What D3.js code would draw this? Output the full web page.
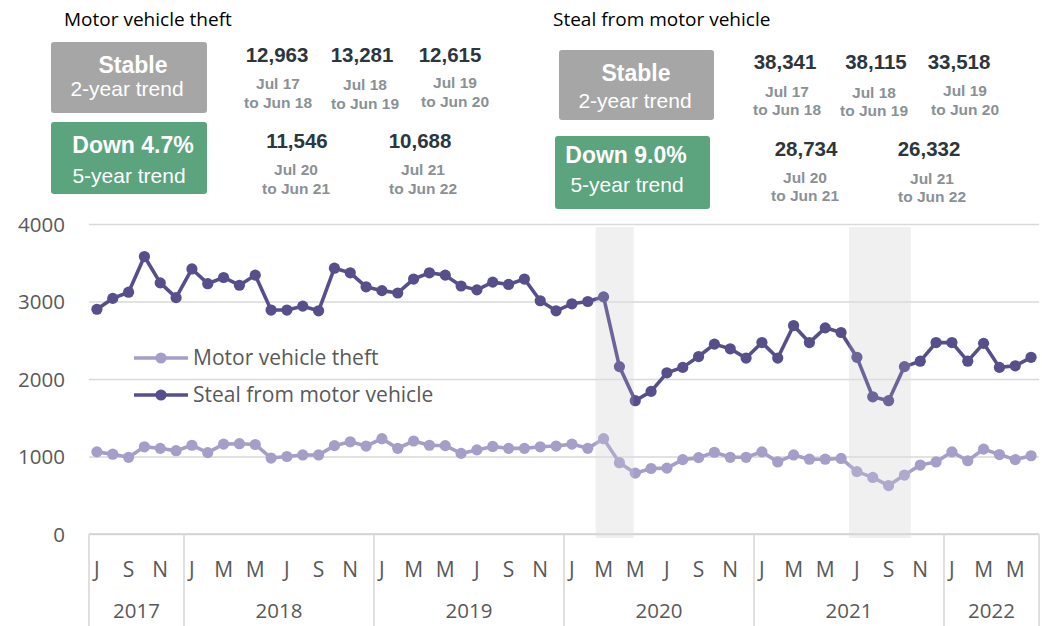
<!DOCTYPE html>
<html><head><meta charset="utf-8">
<script src="https://cdn.jsdelivr.net/npm/d3@7"></script>
<style>
html,body{margin:0;padding:0;background:#fff;}
svg{display:block;}
</style></head>
<body>
<script>
// ---------- DATA ----------
const startYear = 2017, startMonth = 6; // July 2017
const monthInitials = ["J","F","M","A","M","J","J","A","S","O","N","D"];
const years = ["2017","2018","2019","2020","2021","2022"];
const yTicks = [0,1000,2000,3000,4000];

const theftValues = [1060,1030,990,1125,1105,1075,1145,1050,1160,1165,1155,980,
  1000,1020,1020,1140,1190,1135,1230,1105,1200,1145,1140,1040,
  1085,1130,1105,1105,1125,1135,1160,1105,1230,920,785,845,850,960,985,1055,
  990,990,1060,930,1020,965,965,975,805,730,625,760,890,930,1060,945,1095,1025,960,1010];
const stealValues = [2900,3040,3120,3580,3240,3050,3420,3230,3310,3210,3340,2890,
  2890,2940,2880,3430,3370,3190,3140,3110,3290,3370,3340,3200,
  3150,3250,3220,3290,3010,2880,2970,3000,3060,2160,1720,1840,2080,2150,2290,2450,
  2390,2270,2470,2270,2690,2470,2660,2600,2280,1770,1720,2160,2230,2470,2470,2230,2460,2150,2170,2280];

// shaded periods, in months from July 2017
const shadeStart = [32.0, 48.0];
const shadeEnd = [34.4, 51.9];

const seriesNames = ["Motor vehicle theft","Steal from motor vehicle"];
const panelTitles = ["Motor vehicle theft","Steal from motor vehicle"];
const trend2 = ["Stable","Stable"];
const trend5 = ["Down 4.7%","Down 9.0%"];
const theftTotals = ["12,963","13,281","12,615","11,546","10,688"];
const stealTotals = ["38,341","38,115","33,518","28,734","26,332"];
const periodFrom = ["Jul 17","Jul 18","Jul 19","Jul 20","Jul 21"];
const periodTo = ["to Jun 18","to Jun 19","to Jun 20","to Jun 21","to Jun 22"];

// ---------- LAYOUT ----------
const W = 1042, H = 626;
const colors = {theft:"#a59ec9", steal:"#574f8c", grid:"#d9d9d9", axisText:"#595959",
  boxGray:"#a6a6a6", boxGreen:"#5ba47e", num:"#2b363d", sub:"#8a9196"};
const axisFont = "'Open Sans', sans-serif";
const statFont = "'Liberation Sans', Arial, sans-serif";

const svg = d3.select("body").append("svg").attr("width", W).attr("height", H);

const nMonths = theftValues.length;
const idx = d3.range(nMonths);
const x = d3.scaleBand().domain(idx).range([89, 1039]).paddingInner(0).paddingOuter(0);
const bw = x.bandwidth();
const xm = m => 89 + m * bw; // continuous month position
const y = d3.scaleLinear().domain([0, 4000]).range([534, 224]);

// shade (behind)
const shades = shadeStart.map((s,i)=>({s, e: shadeEnd[i]}));
svg.append("g").selectAll("rect").data(shades).join("rect")
  .attr("x", d=>xm(d.s)).attr("width", d=>xm(d.e)-xm(d.s))
  .attr("y", y(3960)).attr("height", y(-50)-y(3960))
  .attr("fill", "#f0f0f0");

// gridlines
const yAxis = d3.axisLeft(y).tickValues(yTicks).tickSize(-(1039-89)).tickPadding(24).tickFormat(d3.format("d"));
const gy = svg.append("g").attr("transform","translate(89,0)").call(yAxis);
gy.select(".domain").remove();
gy.selectAll(".tick line").attr("stroke", colors.grid).attr("stroke-width",1.6);
gy.selectAll(".tick text").attr("fill", colors.axisText).attr("font-family", axisFont)
  .attr("font-size", 20.5).attr("dy","0.35em");

// x axis: month labels and year separators
const periods = idx.map(i => {
  const mm = startMonth + i;
  return {i, year: startYear + Math.floor(mm/12), month: mm % 12};
});
const gx = svg.append("g");
gx.append("line").attr("x1",89).attr("x2",1039).attr("y1",y(0)).attr("y2",y(0))
  .attr("stroke","#d0d0d0").attr("stroke-width",1.6);
gx.selectAll("text.m").data(periods.filter(p=>p.i%2===0)).join("text")
  .attr("class","m")
  .attr("x", p=>x(p.i)+bw/2).attr("y", 577)
  .attr("text-anchor","middle").attr("font-family", axisFont).attr("font-size",21)
  .attr("fill", colors.axisText).text(p=>monthInitials[p.month]);
const yearGroups = years.map(yr => {
  const ps = periods.filter(p=>String(p.year)===yr);
  return {yr, a: ps[0].i, b: ps[ps.length-1].i + 1};
});
const seps = [0].concat(yearGroups.map(g=>g.b));
gx.selectAll("line.sep").data(seps).join("line").attr("class","sep")
  .attr("x1", d=>xm(d)).attr("x2", d=>xm(d)).attr("y1", y(0)).attr("y2", H)
  .attr("stroke","#d9d9d9").attr("stroke-width",1.6);
gx.selectAll("text.yr").data(yearGroups).join("text").attr("class","yr")
  .attr("x", g=>(xm(g.a)+xm(g.b))/2).attr("y", 618)
  .attr("text-anchor","middle").attr("font-family", axisFont).attr("font-size",20.5)
  .attr("fill", colors.axisText).text(g=>g.yr);

// lines
const line = d3.line().x((d,i)=>x(i)+bw/2).y(d=>y(d));
function drawSeries(vals, col){
  const g = svg.append("g");
  g.append("path").datum(vals).attr("d", line).attr("fill","none")
    .attr("stroke", col).attr("stroke-width",3.6).attr("stroke-linejoin","round");
  g.selectAll("circle").data(vals).join("circle")
    .attr("cx", (d,i)=>x(i)+bw/2).attr("cy", d=>y(d)).attr("r",5.6).attr("fill", col);
}
drawSeries(theftValues, colors.theft);
drawSeries(stealValues, colors.steal);

// shade overlay (slight)
svg.append("g").selectAll("rect").data(shades).join("rect")
  .attr("x", d=>xm(d.s)).attr("width", d=>xm(d.e)-xm(d.s))
  .attr("y", y(3960)).attr("height", y(-50)-y(3960))
  .attr("fill", "#f0f0f0").attr("opacity",0.14);

// legend
const leg = svg.append("g");
const legItems = [{name: seriesNames[0], col: colors.theft, yy:358},{name: seriesNames[1], col: colors.steal, yy:395}];
legItems.forEach(it=>{
  leg.append("line").attr("x1",134).attr("x2",188).attr("y1",it.yy).attr("y2",it.yy)
    .attr("stroke", it.col).attr("stroke-width",3.6);
  leg.append("circle").attr("cx",161).attr("cy",it.yy).attr("r",5.6).attr("fill",it.col);
  leg.append("text").attr("x",193).attr("y",it.yy+7).attr("font-family",axisFont)
    .attr("font-size",21).attr("fill",colors.axisText).text(it.name);
});

// ---------- header panels ----------
const panels = [
  {title: panelTitles[0], tx:64, ty:26, totals: theftTotals,
   box2:{x:51,y:42,w:156,h:71, t1x:133, t1y:73, t2x:127, t2y:96},
   box5:{x:51,y:122,w:156,h:72, t1x:133, t1y:153, t2x:129, t2y:183},
   stats:[{nx:277,ny:62,sx:278,s1y:89,s2y:108},{nx:362,ny:62,sx:365,s1y:90,s2y:109},
          {nx:450,ny:62,sx:455,s1y:88,s2y:107},{nx:297,ny:148,sx:296,s1y:175,s2y:194},
          {nx:420,ny:148,sx:423,s1y:175,s2y:194}]},
  {title: panelTitles[1], tx:553, ty:26, totals: stealTotals,
   box2:{x:559,y:50,w:155,h:70, t1x:636, t1y:81, t2x:635, t2y:108},
   box5:{x:555,y:136,w:155,h:73, t1x:626, t1y:163, t2x:627, t2y:192},
   stats:[{nx:785,ny:69,sx:787,s1y:97,s2y:115},{nx:876,ny:69,sx:874,s1y:98,s2y:116},
          {nx:959,ny:69,sx:965,s1y:96,s2y:115},{nx:806,ny:156,sx:805,s1y:183,s2y:201},
          {nx:929,ny:156,sx:932,s1y:184,s2y:202}]}
];
panels.forEach((p,pi)=>{
  const g = svg.append("g");
  g.append("text").attr("x",p.tx).attr("y",p.ty).attr("font-family",axisFont)
    .attr("font-size",19).attr("fill","#000").text(p.title);
  [[p.box2, colors.boxGray, trend2[pi], "2-year trend"],[p.box5, colors.boxGreen, trend5[pi], "5-year trend"]]
  .forEach(([b, col, t1, t2])=>{
    g.append("rect").attr("x",b.x).attr("y",b.y).attr("width",b.w).attr("height",b.h)
      .attr("rx",3).attr("fill",col);
    g.append("text").attr("x",b.t1x).attr("y",b.t1y).attr("text-anchor","middle")
      .attr("font-family",statFont).attr("font-weight","bold").attr("font-size",23)
      .attr("fill","#fff").text(t1);
    g.append("text").attr("x",b.t2x).attr("y",b.t2y).attr("text-anchor","middle")
      .attr("font-family",statFont).attr("font-size",21).attr("fill","#fff").text(t2);
  });
  p.stats.forEach((s,i)=>{
    g.append("text").attr("x",s.nx).attr("y",s.ny).attr("text-anchor","middle")
      .attr("font-family",statFont).attr("font-weight","bold").attr("font-size",20.5)
      .attr("fill",colors.num).text(p.totals[i]);
    g.append("text").attr("x",s.sx).attr("y",s.s1y).attr("text-anchor","middle")
      .attr("font-family",statFont).attr("font-weight","bold").attr("font-size",15.5)
      .attr("fill",colors.sub).text(periodFrom[i]);
    g.append("text").attr("x",s.sx).attr("y",s.s2y).attr("text-anchor","middle")
      .attr("font-family",statFont).attr("font-weight","bold").attr("font-size",15.5)
      .attr("fill",colors.sub).text(periodTo[i]);
  });
});
</script>
</body></html>
